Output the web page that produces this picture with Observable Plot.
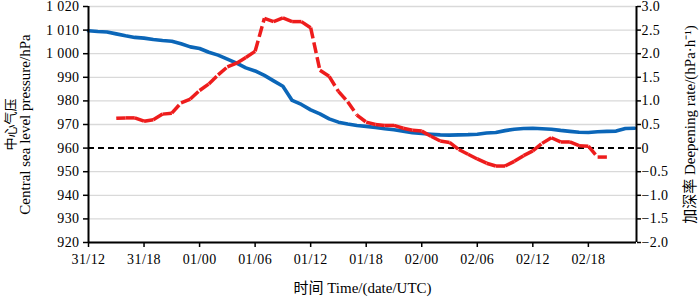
<!DOCTYPE html>
<html>
<head>
<meta charset="utf-8">
<script src="https://cdn.jsdelivr.net/npm/d3@7"></script>
<script src="https://cdn.jsdelivr.net/npm/@observablehq/plot@0.6"></script>
<style>
  html, body { margin: 0; padding: 0; background: #fff; }
  #chart svg { display: block; }
  #chart svg g[aria-label$="tick label"] text { letter-spacing: 0.4px; }
</style>
</head>
<body>
<div id="chart"></div>
<script>
// Hours after 31 Dec 12 UTC
const xTicks = [0, 6, 12, 18, 24, 30, 36, 42, 48, 54];
const xTickLabels = ["31/12", "31/18", "01/00", "01/06", "01/12", "01/18", "02/00", "02/06", "02/12", "02/18"];

const pressureTicks = [920, 930, 940, 950, 960, 970, 980, 990, 1000, 1010, 1020];
const pressureTickLabels = ["920", "930", "940", "950", "960", "970", "980", "990", "1 000", "1 010", "1 020"];

const rateTicks = [-2.0, -1.5, -1.0, -0.5, 0, 0.5, 1.0, 1.5, 2.0, 2.5, 3.0];
const rateTickLabels = ["\u22122.0", "\u22121.5", "\u22121.0", "\u22120.5", "0", "0.5", "1.0", "1.5", "2.0", "2.5", "3.0"];

// Central sea level pressure (hPa), hourly from hour 0
const pressureStart = 0;
const pressure = [
  1009.7, 1009.4, 1009.2, 1008.4, 1007.6, 1006.9, 1006.6, 1006.0, 1005.6, 1005.3,
  1004.2, 1002.9, 1002.2, 1000.6, 999.4, 997.7, 996.0, 994.0, 992.7, 990.8,
  988.5, 986.2, 980.2, 978.5, 976.2, 974.5, 972.4, 971.0, 970.2, 969.6,
  969.2, 968.7, 968.2, 967.8, 967.2, 966.5, 966.2, 965.9, 965.6, 965.5,
  965.6, 965.7, 965.9, 966.4, 966.6, 967.4, 968.0, 968.3, 968.4, 968.2,
  968.0, 967.5, 967.1, 966.7, 966.6, 966.9, 967.1, 967.2, 968.3, 968.4
];

// Deepening rate (hPa/h), hourly from hour 3
const rateStart = 3;
const rate = [
  0.63, 0.64, 0.64, 0.57, 0.60, 0.72, 0.74, 0.96, 1.04, 1.22,
  1.36, 1.55, 1.72, 1.80, 1.92, 2.05, 2.75, 2.68, 2.76, 2.68,
  2.68, 2.55, 1.65, 1.52, 1.20, 0.98, 0.70, 0.55, 0.50, 0.48,
  0.48, 0.42, 0.38, 0.36, 0.25, 0.15, 0.12, -0.03, -0.13, -0.23,
  -0.32, -0.38, -0.38, -0.28, -0.16, -0.06, 0.10, 0.22, 0.13, 0.13,
  0.05, 0.04, -0.19, -0.19
];

const xMax = 59.2;
// map rate onto pressure scale: 0 -> 960, 0.5 -> 970
const rateToP = r => 960 + 20 * r;

const pressureData = pressure.map((p, i) => ({h: pressureStart + i, p}));
const rateSegs = [];
for (let i = 0; i < rate.length - 1; i++) {
  rateSegs.push({h1: rateStart + i, p1: rateToP(rate[i]), h2: rateStart + i + 1, p2: rateToP(rate[i + 1])});
}

const font = "'Liberation Serif', 'Times New Roman', 'Noto Sans CJK SC', serif";
const rateTickPos = rateTicks.map(rateToP);

const chart = Plot.plot({
  width: 700,
  height: 298,
  marginLeft: 88,
  marginRight: 64,
  marginTop: 6,
  marginBottom: 56,
  style: {fontFamily: font, fontSize: "14px", color: "#000", background: "#fff"},
  x: {domain: [0, xMax]},
  y: {domain: [920, 1020]},
  marks: [
    Plot.gridY(pressureTicks.filter(t => t !== 960), {stroke: "#d9d9d9", strokeOpacity: 1, strokeWidth: 1.3}),
    Plot.ruleY([960], {stroke: "#000", strokeWidth: 2, strokeDasharray: "6,4"}),
    Plot.line(pressureData, {x: "h", y: "p", stroke: "#0b66b8", strokeWidth: 3.6}),
    Plot.link(rateSegs, {x1: "h1", y1: "p1", x2: "h2", y2: "p2", stroke: "#ee1c1c", strokeWidth: 3.5, strokeDasharray: "11,4"}),
    Plot.axisY({anchor: "left", ticks: pressureTicks, tickFormat: d => pressureTickLabels[pressureTicks.indexOf(d)], tickSize: 5, tickPadding: 4, strokeWidth: 1.5, fontSize: 14, label: null}),
    Plot.axisY({anchor: "right", ticks: rateTickPos, tickFormat: d => rateTickLabels[rateTickPos.indexOf(d)], tickSize: 4, tickPadding: 1, strokeWidth: 1.5, fontSize: 14, label: null}),
    Plot.axisX({ticks: xTicks, tickFormat: d => xTickLabels[xTicks.indexOf(d)], tickSize: 5, tickPadding: 7, strokeWidth: 1.5, fontSize: 14, label: null}),
    Plot.ruleX([0], {stroke: "#000", strokeWidth: 2}),
    Plot.ruleX([xMax], {stroke: "#000", strokeWidth: 2}),
    Plot.ruleY([920], {stroke: "#000", strokeWidth: 2}),
    Plot.text(["中心气压"], {frameAnchor: "left", dx: -78, rotate: -90, textAnchor: "middle", lineAnchor: "middle", fontSize: 13, fontFamily: "'Noto Sans CJK SC', sans-serif"}),
    Plot.text(["Central sea level pressure/hPa"], {frameAnchor: "left", dx: -63, rotate: -90, textAnchor: "middle", lineAnchor: "middle", fontSize: 15}),
    Plot.text(["加深率 Deepening rate/(hPa·h⁻¹)"], {frameAnchor: "right", dx: 54, rotate: -90, textAnchor: "middle", lineAnchor: "middle", fontSize: 15}),
    Plot.text(["时间 Time/(date/UTC)"], {frameAnchor: "bottom", dy: 46, textAnchor: "middle", lineAnchor: "middle", fontSize: 15})
  ]
});
document.getElementById("chart").appendChild(chart);
</script>
</body>
</html>
